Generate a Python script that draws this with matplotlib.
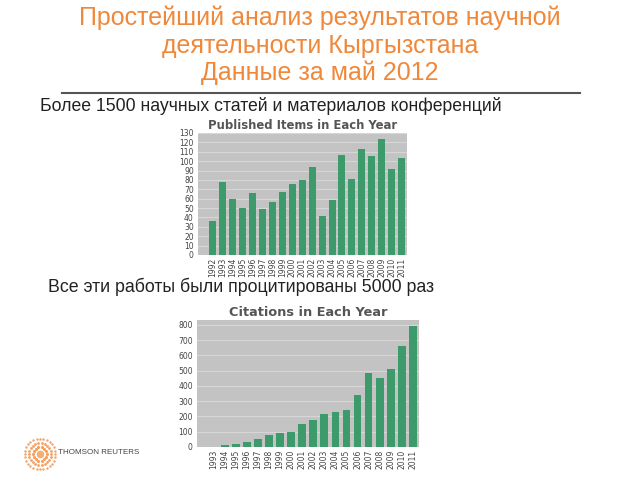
import matplotlib

matplotlib.use("Agg")

import matplotlib.pyplot as plt
import numpy as np

W, H = 640, 480

# data
pub_years = [str(y) for y in range(1992, 2012)]
pub_counts = [36, 78, 60, 50, 66, 49, 57, 67, 76, 80, 94, 42, 59, 107, 81, 113, 105, 124, 92, 103]

cit_years = [str(y) for y in range(1993, 2012)]
cit_counts = [0, 12, 17, 33, 53, 77, 92, 97, 150, 178, 213, 230, 240, 340, 485, 455, 512, 660, 792]

title_lines = [
    "Простейший анализ результатов научной",
    "деятельности Кыргызстана",
    "Данные за май 2012",
]
note_pub = "Более 1500 научных статей и материалов конференций"
note_cit = "Все эти работы были процитированы 5000 раз"

BAR = "#3d9a6b"
BG = "#c3c3c3"
GRID = "#d6d6d6"
ORANGE = "#f0883a"
TEXT_FONT = ["Liberation Sans", "DejaVu Sans"]


def px_axes(fig, left, top, right, bottom):
    return fig.add_axes([left / W, 1 - bottom / H, (right - left) / W, (bottom - top) / H])


def bar_panel(ax, labels, values, ymax, yticks, title, title_size):
    x = np.arange(len(labels))
    ax.set_facecolor(BG)
    ax.bar(x, values, width=0.7, color=BAR, zorder=3)
    ax.set_xlim(-1.5, len(labels) - 0.45)
    ax.set_ylim(0, ymax)
    ax.set_yticks(yticks)
    ax.yaxis.grid(True, color=GRID, lw=0.8, zorder=0)
    ax.set_xticks(x)
    ax.set_xticklabels(labels, rotation=90, fontsize=5.5, color="#444444")
    ax.tick_params(axis="y", labelsize=5.5, labelcolor="#444444", length=0, pad=3)
    ax.tick_params(axis="x", length=0, pad=2)
    for side in ax.spines.values():
        side.set_visible(False)
    ax.set_title(title, fontsize=title_size, fontweight="bold", color="#555555", pad=3)


fig = plt.figure(figsize=(W / 100, H / 100), dpi=100)
fig.patch.set_facecolor("white")

for i, line in enumerate(title_lines):
    fig.text(0.5, 1 - (18 + 27.5 * i) / H, line, ha="center", va="center",
             fontsize=18, color=ORANGE, family=TEXT_FONT)

fig.add_artist(plt.Line2D([62 / W, 580 / W], [1 - 93 / H, 1 - 93 / H], color="#555555", lw=1.5))

fig.text(40 / W, 1 - 106 / H, note_pub, ha="left", va="center", fontsize=12.7, color="#222222", family=TEXT_FONT)
fig.text(48 / W, 1 - 287 / H, note_cit, ha="left", va="center", fontsize=12.8, color="#222222", family=TEXT_FONT)

ax1 = px_axes(fig, 198, 133, 407, 255)
bar_panel(ax1, pub_years, pub_counts, 130, range(0, 131, 10), "Published Items in Each Year", 8.4)

ax2 = px_axes(fig, 197, 320, 419, 447)
bar_panel(ax2, cit_years, cit_counts, 832, range(0, 801, 100), "Citations in Each Year", 9.3)

# Thomson Reuters logo (decoration)
logo = fig.add_axes([22 / W, 1 - 472 / H, 36 / W, 36 / H])
logo.set_xlim(-1, 1)
logo.set_ylim(-1, 1)
logo.axis("off")
for r, n, s in [(0.85, 28, 3), (0.62, 22, 4), (0.38, 14, 5)]:
    ang = np.linspace(0, 2 * np.pi, n, endpoint=False)
    logo.scatter(r * np.cos(ang), r * np.sin(ang), s=s, color=ORANGE, alpha=0.8, lw=0)
logo.scatter([0], [0], s=30, color="#f5b070", lw=0)
fig.text(58 / W, 1 - 453 / H, "THOMSON REUTERS", ha="left", va="center", fontsize=5.8,
         color="#444444", family=TEXT_FONT)

fig.savefig("out.png", dpi=100)
